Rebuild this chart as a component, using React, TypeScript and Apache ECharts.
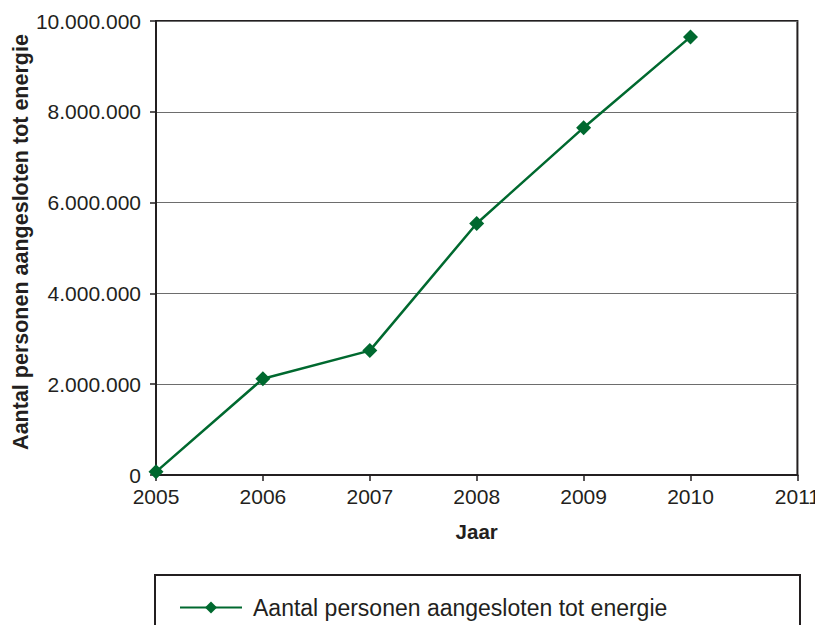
import React, { useEffect, useRef } from "react";
import * as echarts from "echarts";

const years = [2005, 2006, 2007, 2008, 2009, 2010];
const connected = [70000, 2120000, 2740000, 5540000, 7650000, 9650000];
const seriesName = "Aantal personen aangesloten tot energie";
const xTitle = "Jaar";
const yTitle = "Aantal personen aangesloten tot energie";

const FONT = "'Liberation Sans', Arial, Helvetica, sans-serif";
const DARK = "#231f20";
const GREEN = "#00692f";

function fmtDots(v: number): string {
  return String(Math.round(v)).replace(/\B(?=(\d{3})+(?!\d))/g, ".");
}

export default function App() {
  const ref = useRef<HTMLDivElement>(null);
  useEffect(() => {
    if (!ref.current) return;
    const chart = echarts.init(ref.current, undefined, { renderer: "svg" });
    chart.setOption({
      animation: false,
      backgroundColor: "#ffffff",
      textStyle: { fontFamily: FONT },
      grid: {
        left: 156,
        right: 25,
        top: 21,
        bottom: 158,
        show: true,
        borderColor: DARK,
        borderWidth: 2,
        backgroundColor: "transparent",
      },
      xAxis: {
        type: "value",
        min: 2005,
        max: 2011,
        interval: 1,
        name: xTitle,
        nameLocation: "middle",
        nameGap: 46,
        nameTextStyle: { fontFamily: FONT, fontSize: 20.5, fontWeight: "bold", color: DARK },
        axisLine: { show: true, lineStyle: { color: DARK, width: 2 } },
        axisTick: { show: true, length: 6, lineStyle: { color: DARK, width: 1.5 } },
        axisLabel: {
          fontFamily: FONT,
          fontSize: 21,
          color: DARK,
          margin: 11,
          formatter: (v: number) => String(v),
        },
        splitLine: { show: false },
      },
      yAxis: {
        type: "value",
        min: 0,
        max: 10000000,
        interval: 2000000,
        axisLine: { show: true, lineStyle: { color: DARK, width: 2 } },
        axisTick: { show: true, length: 6, lineStyle: { color: DARK, width: 1.5 } },
        axisLabel: {
          fontFamily: FONT,
          fontSize: 21,
          color: DARK,
          margin: 15,
          formatter: (v: number) => fmtDots(v),
        },
        splitLine: { show: true, lineStyle: { color: "#6d6d6d", width: 1 } },
      },
      legend: {
        show: true,
        left: 174,
        top: 591,
        itemWidth: 62,
        itemHeight: 15,
        itemGap: 10,
        textStyle: { fontFamily: FONT, fontSize: 23, color: DARK, padding: [0, 0, 0, 6] },
        data: [seriesName],
      },
      graphic: [
        {
          type: "rect",
          shape: { x: 155, y: 575, width: 645, height: 80 },
          style: { fill: "transparent", stroke: DARK, lineWidth: 2 },
          z: 0,
        },
        {
          type: "text",
          x: 21,
          y: 242,
          rotation: Math.PI / 2,
          style: {
            text: yTitle,
            fontFamily: FONT,
            fontSize: 21.5,
            fontWeight: "bold",
            fill: DARK,
            align: "center",
            verticalAlign: "middle",
          },
        },
      ],
      series: [
        {
          name: seriesName,
          type: "line",
          data: years.map((y, i) => [y, connected[i]]),
          symbol: "diamond",
          symbolSize: 15,
          lineStyle: { color: GREEN, width: 2.5 },
          itemStyle: { color: GREEN },
          clip: false,
        },
      ],
    });
    return () => chart.dispose();
  }, []);
  return <div ref={ref} style={{ width: 823, height: 633, margin: -8 }} />;
}
